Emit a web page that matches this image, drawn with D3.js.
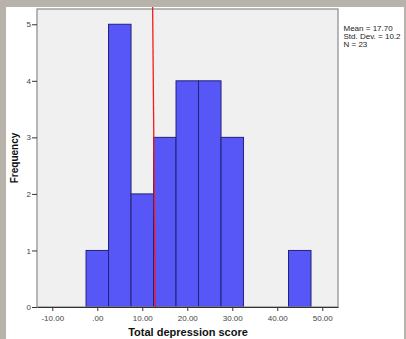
<!DOCTYPE html>
<html><head><meta charset="utf-8">
<script src="https://cdn.jsdelivr.net/npm/d3@7/dist/d3.min.js"></script>
<style>body{margin:0;background:#b7b2aa;} svg{display:block}</style>
</head><body>
<svg id="c" width="406" height="339"></svg>
<script>
const binStarts = [-2.5, 2.5, 7.5, 12.5, 17.5, 22.5, 27.5, 42.5];
const binWidth = 5;
const frequencies = [1, 5, 2, 3, 4, 4, 3, 1];
const xTicks = [-10, 0, 10, 20, 30, 40, 50];
const xTickLabels = ["-10.00", ".00", "10.00", "20.00", "30.00", "40.00", "50.00"];
const yTicks = [0, 1, 2, 3, 4, 5];
const statsLines = ["Mean = 17.70", "Std. Dev. = 10.2", "N = 23"];
const refLine = [12.3, 12.9]; // top, bottom x-values of red line

const svg = d3.select("#c");
svg.append("rect").attr("x",6).attr("y",7).attr("width",398).attr("height",332).attr("fill","#fff");
const L=37,R=338,T=9,B=307;
const x = d3.scaleLinear().domain([-13.4,53.5]).range([L,R]);
const y = d3.scaleLinear().domain([0,5.27]).range([B,T]);
svg.append("rect").attr("x",L).attr("y",T).attr("width",R-L).attr("height",B-T).attr("fill","#f0f0f0");

svg.selectAll("rect.bar").data(binStarts).join("rect").attr("class","bar")
  .attr("x",(d)=>x(d)).attr("width",(d)=>x(d+binWidth)-x(d))
  .attr("y",(d,i)=>y(frequencies[i])).attr("height",(d,i)=>y(0)-y(frequencies[i]))
  .attr("fill","#5757f7").attr("stroke","#22227a").attr("stroke-width",1);

svg.append("rect").attr("x",L).attr("y",T).attr("width",R-L).attr("height",B-T)
  .attr("fill","none").attr("stroke","#8a8a8a").attr("stroke-width",1.2);

const xa = svg.append("g").attr("transform",`translate(0,${B})`)
  .call(d3.axisBottom(x).tickValues(xTicks).tickFormat((d,i)=>xTickLabels[i]).tickSize(4).tickSizeOuter(0));
xa.select(".domain").attr("stroke","#333");
xa.selectAll("line").attr("stroke","#333");
xa.selectAll("text").attr("fill","#444").attr("font-family","Liberation Sans, Arial, sans-serif").attr("font-size","8px").attr("dy","0.9em");

const ya = svg.append("g").attr("transform",`translate(${L},0)`)
  .call(d3.axisLeft(y).tickValues(yTicks).tickFormat(d3.format("d")).tickSize(5).tickSizeOuter(0));
ya.select(".domain").remove();
ya.selectAll("line").attr("stroke","#333");
ya.selectAll("text").attr("fill","#444").attr("font-family","Liberation Sans, Arial, sans-serif").attr("font-size","8px").attr("x",-6);

svg.append("line").attr("x1",x(refLine[0])).attr("y1",7).attr("x2",x(refLine[1])).attr("y2",B)
  .attr("stroke","#f21c1c").attr("stroke-width",1.3);

svg.append("text").attr("x",188).attr("y",336).attr("text-anchor","middle")
  .attr("font-family","Liberation Sans, Arial, sans-serif").attr("font-weight","bold").attr("font-size","11px")
  .attr("fill","#111").text("Total depression score");
svg.append("text").attr("transform","translate(18,158) rotate(-90)").attr("text-anchor","middle")
  .attr("font-family","Liberation Sans, Arial, sans-serif").attr("font-weight","bold").attr("font-size","10px")
  .attr("fill","#111").text("Frequency");

svg.selectAll("text.stat").data(statsLines).join("text").attr("class","stat")
  .attr("x",343.5).attr("y",(d,i)=>31+i*8).attr("font-family","Liberation Sans, Arial, sans-serif")
  .attr("font-size","8px").attr("fill","#222").text(d=>d);
</script>
</body></html>
